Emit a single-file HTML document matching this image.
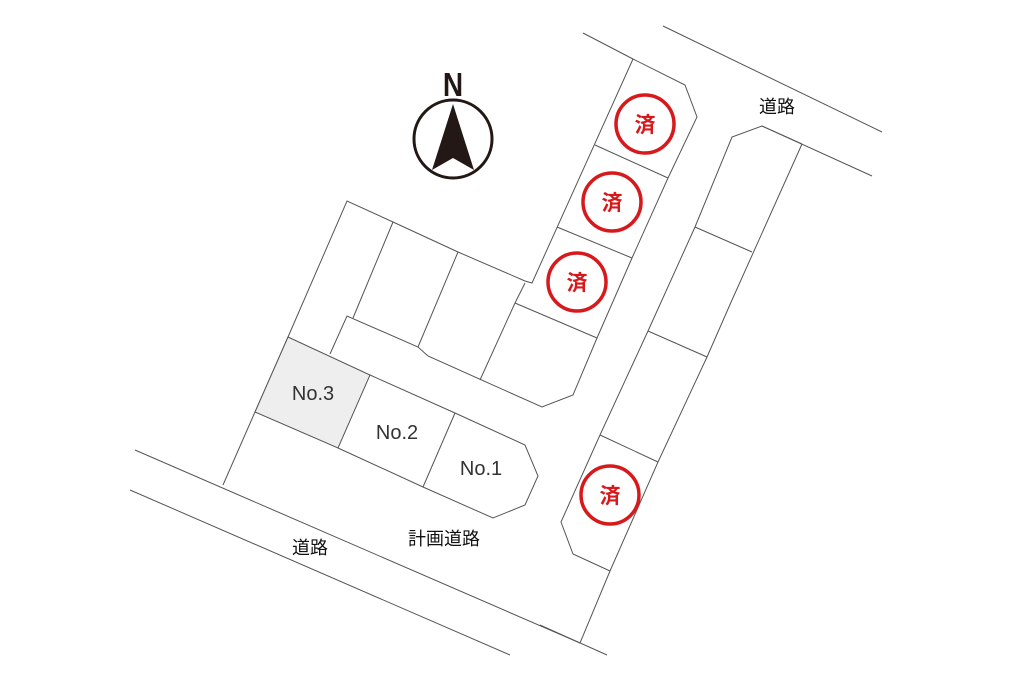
<!DOCTYPE html>
<html><head><meta charset="utf-8"><style>
html,body{margin:0;padding:0;background:#fff;}
svg{display:block;}
text{font-family:"Liberation Sans","Noto Sans CJK JP",sans-serif;}
</style></head><body>
<svg width="1024" height="683" viewBox="0 0 1024 683" xmlns="http://www.w3.org/2000/svg">
<g fill="none" stroke="#555" stroke-width="1">
<line x1="583" y1="33" x2="633" y2="59"/>
<line x1="663" y1="26" x2="882" y2="132"/>
<line x1="762" y1="126" x2="872" y2="176"/>
<line x1="135" y1="450" x2="580" y2="643"/>
<line x1="130" y1="490" x2="510" y2="655"/>
<line x1="540" y1="625" x2="607" y2="655"/>
<polyline points="633,59 685,85 697,117 668,178 632,258 597,338 573,395 542,407 428,356 418,347 347,316 330,354"/>
<polyline points="633,59 532,283 525,281 458,252 393,222 347,201 288,337 255,412 223,485"/>
<polyline points="525,283 515,303 480,380"/>
<line x1="595" y1="145" x2="668" y2="178"/>
<line x1="557" y1="227" x2="632" y2="258"/>
<line x1="515" y1="303" x2="597" y2="338"/>
<line x1="393" y1="222" x2="353" y2="318"/>
<line x1="458" y1="252" x2="418" y2="347"/>
<polygon points="288,337 370,375 338,448 255,412" fill="#eee"/>
<polyline points="370,375 455,413 525,445 538,476 525,505 493,518 423,487 338,448"/>
<line x1="455" y1="413" x2="423" y2="487"/>
<polyline points="802,144 762,126 732,137 695,227 648,331 600,435 561,522 573,554 610,571"/>
<polyline points="802,144 732,300 707,357 658,462 610,571 580,643"/>
<line x1="695" y1="227" x2="752" y2="252"/>
<line x1="648" y1="331" x2="707" y2="357"/>
<line x1="600" y1="435" x2="658" y2="462"/>
</g>
<circle cx="453" cy="139" r="39" fill="none" stroke="#231815" stroke-width="3"/>
<polygon points="453,104 432,170 453,158 474,170" fill="#231815"/>
<text x="453" y="96" font-size="33" font-weight="bold" text-anchor="middle" fill="#231815" transform="translate(453 96) scale(0.85 1) translate(-453 -96)">N</text>
<g fill="none" stroke="#d7191c" stroke-width="3.5">
<circle cx="645" cy="124" r="29"/>
<circle cx="612" cy="202" r="29"/>
<circle cx="577" cy="282" r="29"/>
<circle cx="610" cy="495" r="29"/>
</g>
<g fill="#d7191c" font-size="21" font-weight="bold" text-anchor="middle">
<text x="645" y="132">済</text>
<text x="612" y="210">済</text>
<text x="577" y="290">済</text>
<text x="610" y="503">済</text>
</g>
<g fill="#333" font-size="20" text-anchor="middle">
<text x="313" y="400">No.3</text>
<text x="397" y="439">No.2</text>
<text x="481" y="475">No.1</text>
</g>
<g fill="#111" font-size="18" text-anchor="middle">
<text x="777" y="113">道路</text>
<text x="310" y="554">道路</text>
<text x="444" y="545">計画道路</text>
</g>
</svg>
</body></html>
